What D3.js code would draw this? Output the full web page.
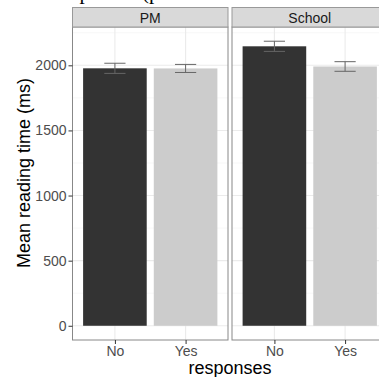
<!DOCTYPE html>
<html>
<head>
<meta charset="utf-8">
<script src="https://cdn.jsdelivr.net/npm/d3@7"></script>
<style>
  body { margin: 0; background: #fff; }
  svg { display: block; font-family: "Liberation Sans", Arial, sans-serif; }
</style>
</head>
<body>
<script>
// facet panels, x categories and the plotted means / standard errors
const panels = ["PM", "School"];
const responses = ["No", "Yes"];
const meansPM = [1977, 1976];
const meansSchool = [2146, 1991];
const sePM = [39, 31];
const seSchool = [39, 37];
const yTicks = [0, 500, 1000, 1500, 2000];

const data = [];
panels.forEach((p, i) => {
    const m = i === 0 ? meansPM : meansSchool;
    const s = i === 0 ? sePM : seSchool;
    responses.forEach((r, j) => data.push({ panel: p, response: r, mean: m[j], se: s[j] }));
});

const width = 379, height = 377;
const panelTop = 27, panelBottom = 340;
const panelW = 155.5, gap = 4, left = 72.5;

const svg = d3.select('body').append('svg')
    .attr('width', width)
    .attr('height', height);

// caption of the figure above, only its descenders show at the top edge
svg.append('text')
    .attr('x', 48)
    .attr('y', -1)
    .attr('font-family', '"Liberation Serif", "Times New Roman", serif')
    .attr('font-size', 21)
    .attr('fill', '#000')
    .text('Responses (plotted means and standard errors)');

const maxVal = d3.max(data, d => d.mean + d.se);
const y = d3.scaleLinear()
    .domain([-0.05 * maxVal, maxVal * 1.05])
    .range([panelBottom, panelTop]);

const panelX = d3.scaleBand()
    .domain(panels)
    .range([left, left + 2 * panelW + gap])
    .paddingInner(gap / (panelW + gap));

const x = d3.scalePoint()
    .domain(responses)
    .range([0, panelW])
    .padding(0.6);
const barW = x.step() * 0.9;
const errW = x.step() * 0.3;

const colors = d3.scaleOrdinal().domain(responses).range(["#333333", "#cccccc"]);

const minorTicks = d3.range(250, y.domain()[1], 500);

panels.forEach(p => {
    const g = svg.append('g').attr('transform', `translate(${panelX(p)},0)`);

    // grid
    g.selectAll('.minor').data(minorTicks).enter().append('line')
        .attr('x1', 0).attr('x2', panelW)
        .attr('y1', d => y(d)).attr('y2', d => y(d))
        .attr('stroke', '#f3f3f3').attr('stroke-width', 0.6);
    g.selectAll('.major').data(yTicks).enter().append('line')
        .attr('x1', 0).attr('x2', panelW)
        .attr('y1', d => y(d)).attr('y2', d => y(d))
        .attr('stroke', '#ebebeb').attr('stroke-width', 1.1);
    g.selectAll('.vmajor').data(responses).enter().append('line')
        .attr('x1', d => x(d)).attr('x2', d => x(d))
        .attr('y1', panelTop).attr('y2', panelBottom)
        .attr('stroke', '#ebebeb').attr('stroke-width', 1.1);

    const rows = data.filter(d => d.panel === p);

    g.selectAll('rect.bar').data(rows).enter().append('rect')
        .attr('class', 'bar')
        .attr('x', d => x(d.response) - barW / 2)
        .attr('width', barW)
        .attr('y', d => y(d.mean))
        .attr('height', d => y(0) - y(d.mean))
        .attr('fill', d => colors(d.response));

    // error bars
    const eb = g.selectAll('g.err').data(rows).enter().append('g')
        .attr('stroke', '#666').attr('stroke-width', 1).attr('fill', 'none');
    eb.append('line')
        .attr('x1', d => x(d.response)).attr('x2', d => x(d.response))
        .attr('y1', d => y(d.mean + d.se)).attr('y2', d => y(d.mean - d.se));
    eb.append('line')
        .attr('x1', d => x(d.response) - errW / 2).attr('x2', d => x(d.response) + errW / 2)
        .attr('y1', d => y(d.mean + d.se)).attr('y2', d => y(d.mean + d.se));
    eb.append('line')
        .attr('x1', d => x(d.response) - errW / 2).attr('x2', d => x(d.response) + errW / 2)
        .attr('y1', d => y(d.mean - d.se)).attr('y2', d => y(d.mean - d.se));

    // panel border
    g.append('rect')
        .attr('x', 0).attr('y', panelTop)
        .attr('width', panelW).attr('height', panelBottom - panelTop)
        .attr('fill', 'none').attr('stroke', '#888').attr('stroke-width', 1);

    // strip
    g.append('rect')
        .attr('x', 0).attr('y', 7.5)
        .attr('width', panelW).attr('height', panelTop - 7.5)
        .attr('fill', '#d9d9d9').attr('stroke', '#999').attr('stroke-width', 1);
    g.append('text')
        .attr('x', panelW / 2).attr('y', 23)
        .attr('text-anchor', 'middle')
        .attr('font-size', 14)
        .attr('fill', '#1a1a1a')
        .text(p);

    // x axis
    const xa = g.append('g').attr('transform', `translate(0,${panelBottom})`)
        .call(d3.axisBottom(x).tickSize(4).tickPadding(2));
    xa.select('.domain').remove();
    xa.selectAll('line').attr('stroke', '#333');
    xa.selectAll('text').attr('font-size', 14).attr('fill', '#4d4d4d')
        .attr('font-family', '"Liberation Sans", Arial, sans-serif');
});

// y axis
const ya = svg.append('g').attr('transform', `translate(${left},0)`)
    .call(d3.axisLeft(y).tickValues(yTicks).tickFormat(d3.format('d')).tickSize(4).tickPadding(2));
ya.select('.domain').remove();
ya.selectAll('line').attr('stroke', '#333');
ya.selectAll('text').attr('font-size', 14).attr('fill', '#4d4d4d')
    .attr('font-family', '"Liberation Sans", Arial, sans-serif');

// axis titles
svg.append('text')
    .attr('x', panelX('PM') + panelW + gap / 2)
    .attr('y', 374)
    .attr('text-anchor', 'middle')
    .attr('font-size', 18)
    .attr('fill', '#000')
    .text('responses');

svg.append('text')
    .attr('transform', 'translate(30,173) rotate(-90)')
    .attr('text-anchor', 'middle')
    .attr('font-size', 18)
    .attr('fill', '#000')
    .text('Mean reading time (ms)');
</script>
</body>
</html>
